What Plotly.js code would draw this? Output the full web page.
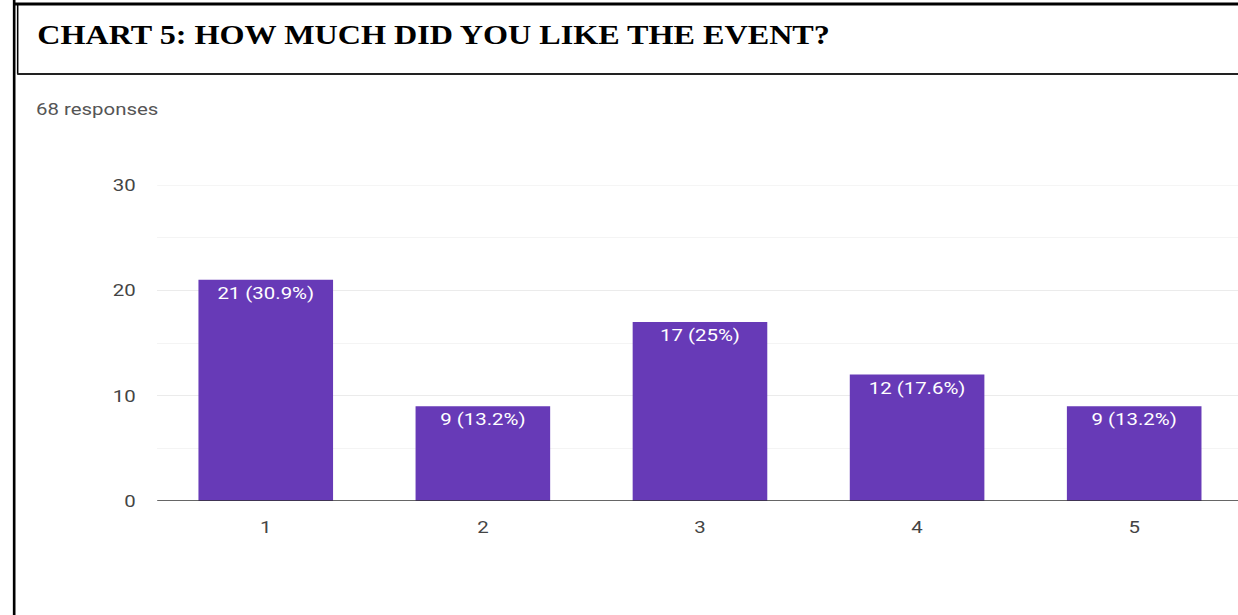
<!DOCTYPE html>
<html>
<head>
<meta charset="utf-8">
<script src="https://cdn.plot.ly/plotly-3.0.1.min.js"></script>
<style>
  html, body { margin: 0; padding: 0; background: #fff; overflow: hidden; }
  #wrap { width: 1238px; height: 615px; overflow: hidden; position: relative; }
  #chart { position: absolute; left: 0; top: 0; transform-origin: 0 0; }
</style>
</head>
<body>
<div id="wrap"><div id="chart"></div></div>
<script>
const categories = ["1", "2", "3", "4", "5"];
const counts = [21, 9, 17, 12, 9];
const percentLabels = ["30.9%", "13.2%", "25%", "17.6%", "13.2%"];
const yTicks = [0, 10, 20, 30];
const titleText = "CHART 5: HOW MUCH DID YOU LIKE THE EVENT?";
const subtitleText = "68 responses";

// The reference image is horizontally stretched (~1.2x); draw narrower and stretch.
const S = 1.2;
const W = 1238, H = 615;
const M = { l: 157, r: 0, t: 185, b: 114 };
const PW = W - M.l - M.r, PH = H - M.t - M.b;
const px = x => (x - M.l) / PW;
const py = y => (H - M.b - y) / PH;

const el = document.getElementById("chart");
el.style.width = (W / S) + "px";
el.style.height = H + "px";
el.style.transform = "scaleX(" + S + ")";

const barText = counts.map((c, i) => c + " (" + percentLabels[i] + ")");

const trace = {
  type: "bar",
  x: categories,
  y: counts,
  text: barText,
  textposition: "inside",
  insidetextanchor: "end",
  textangle: 0,
  textfont: { family: "Roboto, Arial, sans-serif", size: 17, color: "#ffffff" },
  marker: { color: "#673ab7", line: { width: 0 } },
  width: 0.62,
  hoverinfo: "none",
  cliponaxis: false
};

const shapes = [
  { type: "line", xref: "paper", yref: "paper", x0: px(14), x1: px(14), y0: py(0), y1: py(615), line: { color: "#000", width: 2.2 } },
  { type: "line", xref: "paper", yref: "paper", x0: px(13), x1: px(1240), y0: py(4), y1: py(4), line: { color: "#000", width: 3 } },
  { type: "line", xref: "paper", yref: "paper", x0: px(17.5), x1: px(17.5), y0: py(4), y1: py(74), line: { color: "#000", width: 1.3 } },
  { type: "line", xref: "paper", yref: "paper", x0: px(17), x1: px(1240), y0: py(74), y1: py(74), line: { color: "#222", width: 2 } },
  { type: "line", xref: "paper", yref: "y", x0: 0, x1: 1, y0: 30, y1: 30, layer: "below", line: { color: "#ebebeb", width: 1 } },
  { type: "line", xref: "paper", yref: "y", x0: 0, x1: 1, y0: 0, y1: 0, line: { color: "#333", width: 1.5 } }
];

const layout = {
  width: W / S, height: H,
  margin: { l: M.l / S, r: M.r, t: M.t, b: M.b, pad: 0 },
  paper_bgcolor: "#ffffff",
  plot_bgcolor: "#ffffff",
  showlegend: false,
  xaxis: {
    type: "category",
    range: [-0.5, 4.48],
    showgrid: false,
    zeroline: false,
    showline: false,
    ticks: "",
    ticklabelstandoff: 14,
    tickfont: { family: "Roboto, Arial, sans-serif", size: 17, color: "#444" },
    fixedrange: true
  },
  yaxis: {
    range: [0, 30],
    tickvals: yTicks,
    ticktext: yTicks.map(String),
    showgrid: true,
    gridcolor: "#ebebeb",
    gridwidth: 1,
    zeroline: false,
    showline: false,
    ticks: "",
    ticklabelstandoff: 17,
    tickfont: { family: "Roboto, Arial, sans-serif", size: 17, color: "#444" },
    minor: { tickvals: [5, 15, 25], showgrid: true, gridcolor: "#f4f4f4", gridwidth: 1 },
    fixedrange: true
  },
  shapes: shapes,
  annotations: [
    {
      text: "<b>" + titleText + "</b>",
      xref: "paper", yref: "paper",
      x: px(35), y: py(35),
      xanchor: "left", yanchor: "middle",
      showarrow: false,
      font: { family: "Liberation Serif, Times New Roman, serif", size: 26.8, color: "#000" }
    },
    {
      text: subtitleText,
      xref: "paper", yref: "paper",
      x: px(33), y: py(109),
      xanchor: "left", yanchor: "middle",
      showarrow: false,
      font: { family: "Roboto, Arial, sans-serif", size: 17, color: "#555" }
    }
  ]
};

Plotly.newPlot("chart", [trace], layout, { staticPlot: true, displayModeBar: false });
</script>
</body>
</html>
